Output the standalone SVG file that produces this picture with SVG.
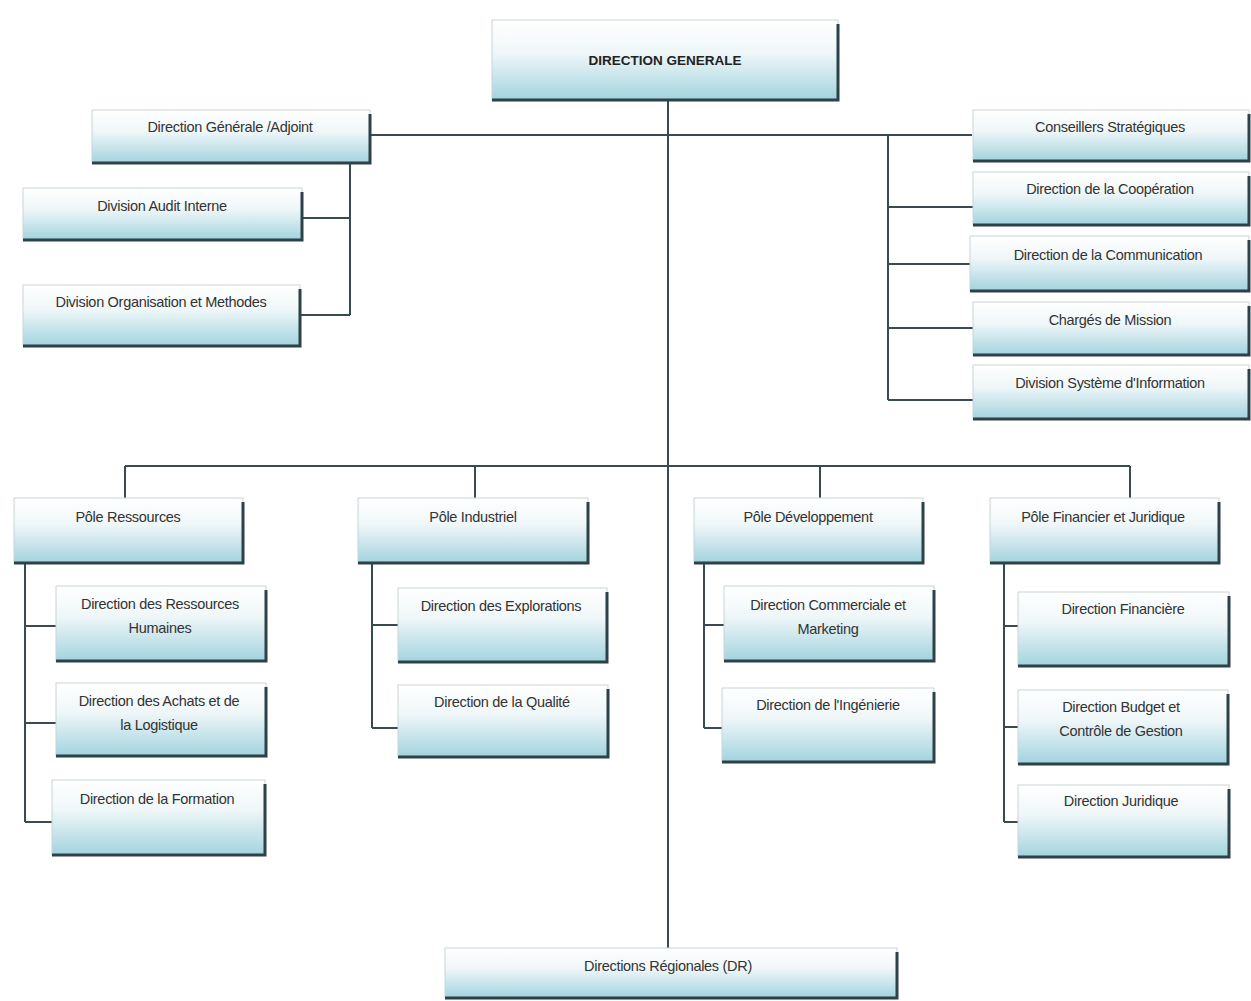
<svg xmlns="http://www.w3.org/2000/svg" width="1251" height="1001" viewBox="0 0 1251 1001">
<defs>
<linearGradient id="bg" x1="0" y1="0" x2="0" y2="1">
<stop offset="0" stop-color="#ffffff"/>
<stop offset="0.4" stop-color="#f0f7f9"/>
<stop offset="1" stop-color="#a2d3de"/>
</linearGradient>
</defs>
<style>
.box{fill:url(#bg);stroke:#c9d3d6;stroke-width:1}
.sh{fill:none;stroke:#2d4148;stroke-width:3}
.t{font-family:"Liberation Sans",Arial,sans-serif;font-size:14.5px;fill:#333;text-anchor:middle;letter-spacing:-0.3px}
.b{font-weight:bold;font-size:13.5px;fill:#222;letter-spacing:0}
.c{fill:none;stroke:#3b4a4f;stroke-width:2}
</style>
<rect width="1251" height="1001" fill="#ffffff"/>
<g id="connectors">
<path class="c" d="M668 100 V948"/>
<path class="c" d="M370 135 H972"/>
<path class="c" d="M350 163 V315 M302 218 H350 M300 315 H350"/>
<path class="c" d="M888 135 V400 M888 207 H973 M888 264 H970 M888 328 H973 M888 400 H973"/>
<path class="c" d="M125 466 H1130 M125 466 V498 M475 466 V498 M820 466 V498 M1130 466 V498"/>
<path class="c" d="M25 563 V822 M25 626 H56 M25 723 H56 M25 822 H52"/>
<path class="c" d="M372 563 V728 M372 625 H398 M372 728 H398"/>
<path class="c" d="M704 563 V728 M704 625 H724 M704 728 H722"/>
<path class="c" d="M1004 563 V822 M1004 626 H1018 M1004 727 H1018 M1004 822 H1018"/>
</g>
<g id="n-dg"><rect class="box" x="492" y="20" width="346" height="80"/><path class="sh" d="M838 24 V100 H492"/><text class="t b" x="665" y="65">DIRECTION GENERALE</text></g>
<g id="n-dga"><rect class="box" x="92" y="110" width="278" height="53"/><path class="sh" d="M370 114 V163 H92"/><text class="t" x="230" y="132">Direction Générale /Adjoint</text></g>
<g id="n-audit"><rect class="box" x="23" y="188" width="279" height="52"/><path class="sh" d="M302 192 V240 H23"/><text class="t" x="162" y="211">Division Audit Interne</text></g>
<g id="n-orga"><rect class="box" x="23" y="285" width="277" height="61"/><path class="sh" d="M300 289 V346 H23"/><text class="t" x="161" y="307">Division Organisation et Methodes</text></g>
<g id="n-conseil"><rect class="box" x="973" y="110" width="276" height="51"/><path class="sh" d="M1249 114 V161 H973"/><text class="t" x="1110" y="132">Conseillers Stratégiques</text></g>
<g id="n-coop"><rect class="box" x="973" y="172" width="276" height="53"/><path class="sh" d="M1249 176 V225 H973"/><text class="t" x="1110" y="194">Direction de la Coopération</text></g>
<g id="n-comm"><rect class="box" x="970" y="236" width="279" height="55"/><path class="sh" d="M1249 240 V291 H970"/><text class="t" x="1108" y="260">Direction de la Communication</text></g>
<g id="n-charges"><rect class="box" x="973" y="302" width="276" height="53"/><path class="sh" d="M1249 306 V355 H973"/><text class="t" x="1110" y="325">Chargés de Mission</text></g>
<g id="n-dsi"><rect class="box" x="973" y="365" width="276" height="54"/><path class="sh" d="M1249 369 V419 H973"/><text class="t" x="1110" y="388">Division Système d'Information</text></g>
<g id="n-pres"><rect class="box" x="14" y="498" width="229" height="65"/><path class="sh" d="M243 502 V563 H14"/><text class="t" x="128" y="522">Pôle Ressources</text></g>
<g id="n-pind"><rect class="box" x="358" y="498" width="230" height="65"/><path class="sh" d="M588 502 V563 H358"/><text class="t" x="473" y="522">Pôle Industriel</text></g>
<g id="n-pdev"><rect class="box" x="694" y="498" width="229" height="65"/><path class="sh" d="M923 502 V563 H694"/><text class="t" x="808" y="522">Pôle Développement</text></g>
<g id="n-pfin"><rect class="box" x="990" y="498" width="229" height="65"/><path class="sh" d="M1219 502 V563 H990"/><text class="t" x="1103" y="522">Pôle Financier et Juridique</text></g>
<g id="n-drh"><rect class="box" x="56" y="586" width="210" height="75"/><path class="sh" d="M266 590 V661 H56"/><text class="t" x="160" y="609">Direction des Ressources</text><text class="t" x="160" y="633">Humaines</text></g>
<g id="n-dal"><rect class="box" x="56" y="683" width="210" height="73"/><path class="sh" d="M266 687 V756 H56"/><text class="t" x="159" y="706">Direction des Achats et de</text><text class="t" x="159" y="730">la Logistique</text></g>
<g id="n-dfor"><rect class="box" x="52" y="780" width="213" height="75"/><path class="sh" d="M265 784 V855 H52"/><text class="t" x="157" y="804">Direction de la Formation</text></g>
<g id="n-dexp"><rect class="box" x="398" y="588" width="209" height="74"/><path class="sh" d="M607 592 V662 H398"/><text class="t" x="501" y="611">Direction des Explorations</text></g>
<g id="n-dq"><rect class="box" x="398" y="685" width="210" height="72"/><path class="sh" d="M608 689 V757 H398"/><text class="t" x="502" y="707">Direction de la Qualité</text></g>
<g id="n-dcm"><rect class="box" x="724" y="586" width="210" height="75"/><path class="sh" d="M934 590 V661 H724"/><text class="t" x="828" y="610">Direction Commerciale et</text><text class="t" x="828" y="634">Marketing</text></g>
<g id="n-ding"><rect class="box" x="722" y="688" width="212" height="74"/><path class="sh" d="M934 692 V762 H722"/><text class="t" x="828" y="710">Direction de l'Ingénierie</text></g>
<g id="n-dfin"><rect class="box" x="1018" y="592" width="211" height="74"/><path class="sh" d="M1229 596 V666 H1018"/><text class="t" x="1123" y="614">Direction Financière</text></g>
<g id="n-dbcg"><rect class="box" x="1018" y="690" width="210" height="74"/><path class="sh" d="M1228 694 V764 H1018"/><text class="t" x="1121" y="712">Direction Budget et</text><text class="t" x="1121" y="736">Contrôle de Gestion</text></g>
<g id="n-djur"><rect class="box" x="1018" y="785" width="211" height="72"/><path class="sh" d="M1229 789 V857 H1018"/><text class="t" x="1121" y="806">Direction Juridique</text></g>
<g id="n-dr"><rect class="box" x="445" y="948" width="452" height="50"/><path class="sh" d="M897 952 V998 H445"/><text class="t" x="668" y="971">Directions Régionales (DR)</text></g>
</svg>
